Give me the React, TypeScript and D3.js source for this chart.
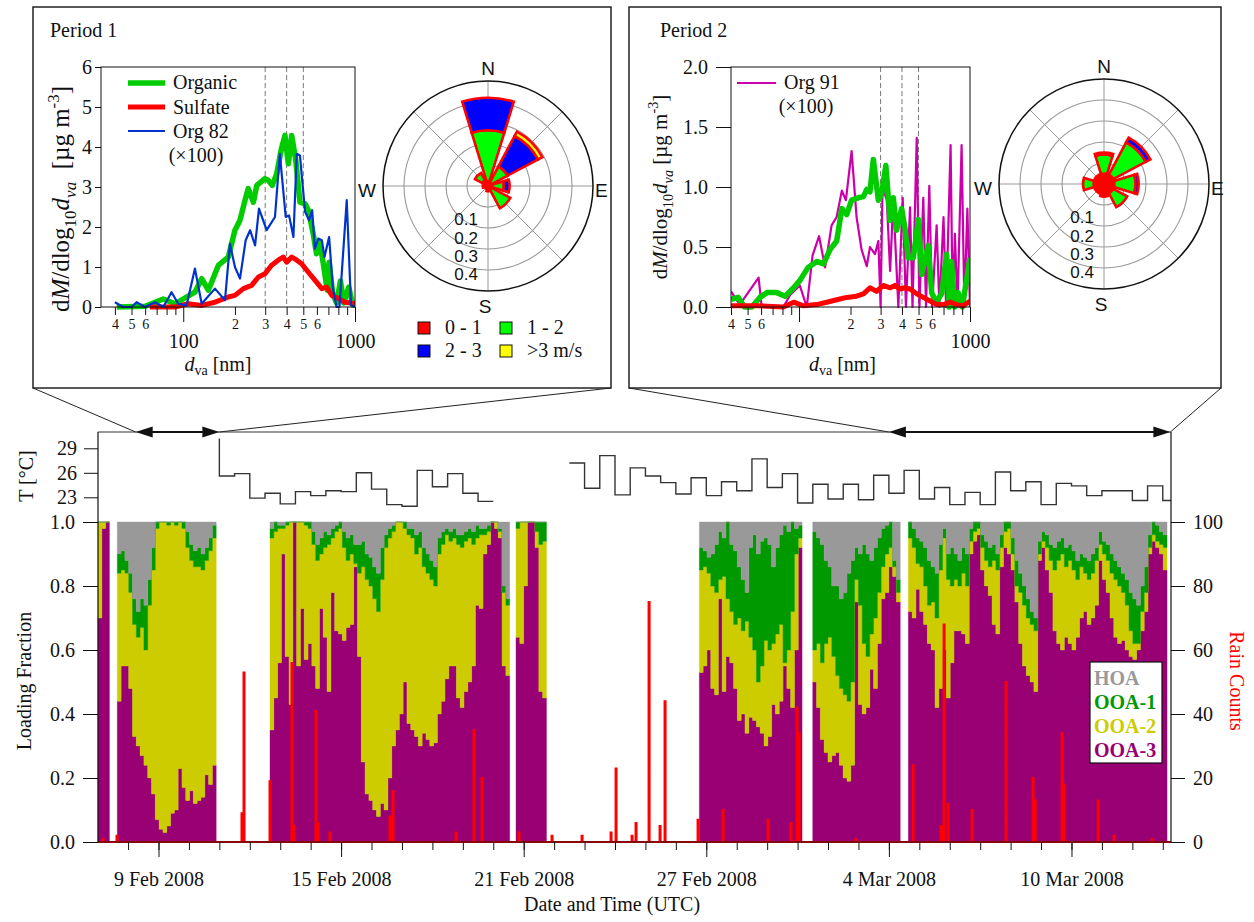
import React, { useEffect, useRef } from 'react';
import * as d3 from 'd3';

const SERIF = "'Liberation Serif', 'Times New Roman', Times, serif";
const SANS = "'Liberation Sans', Arial, Helvetica, sans-serif";

// ---------- size distributions: [d_va (nm), dM/dlog10 d_va (ug m-3)] ----------
const p1Organic = [[41,0],[60,0.02],[76.5,0.2],[89.5,0.08],[104.5,0.25],[117,0.37],[128,0.71],[140,0.42],[160,1.04],[183,1.25],[200,1.92],[214,2.17],[229,2.67],[239,2.96],[256,2.62],[268,3.04],[299,3.21],[312,3.17],[330,3.04],[350,3.33],[373,3.96],[391,4.29],[409,3.58],[428,4.29],[452,3.67],[478,2.62],[512,2.58],[535,2.42],[571,1.83],[597,1.33],[625,1.62],[654,1.08],[689,0.42],[707,1.12],[742,0.33],[781,0.1],[823,0.65],[860,0.1],[920,0.5],[970,0.05],[1000,0.1]];
const p1Sulfate = [[64,0],[89.5,0],[107,0.08],[128,0.04],[153,0.12],[183,0.25],[200,0.29],[224,0.46],[250,0.54],[274,0.75],[299,0.83],[326,1.04],[357,1.17],[382,1.25],[400,1.12],[428,1.25],[458,1.17],[489,1.08],[535,0.87],[584,0.67],[641,0.46],[683,0.5],[733,0.29],[800,0.21],[875,0.12],[1000,0.08]];
// Org 82 signal, x100
const p1Org82 = [[40,0.12],[44.7,0],[50,0],[53.5,0.12],[59.8,0],[68.4,0.12],[76.5,0],[85.5,0.37],[93.5,0.08],[104.5,0.04],[117,0.96],[128,0.08],[153,0.46],[175,0.17],[187,1.58],[200,1.0],[214,0.71],[231,1.67],[245,1.92],[262,1.54],[276,2.46],[306,1.92],[342,2.25],[365,3.83],[395,2.25],[413,2.29],[438,1.75],[458,3.83],[478,3.79],[512,2.38],[540,2.17],[563,2.42],[584,1.46],[611,1.71],[641,1.67],[664,1.25],[707,1.75],[742,0.5],[781,0],[812,0],[895,2.67],[948,0.05],[1000,0]];

const p2Organic = [[40,0.064],[44,0.08],[48,0],[53,0],[59,0.08],[65,0.12],[74,0.12],[83,0.09],[93,0.16],[101,0.22],[113,0.33],[127,0.38],[139,0.36],[152,0.48],[166,0.55],[178,0.82],[190,0.77],[203,0.89],[222,0.91],[238,0.92],[249,0.98],[260,0.96],[272,1.23],[291,0.89],[304,0.94],[322,1.18],[341,0.72],[356,0.91],[372,0.64],[398,0.82],[416,0.66],[435,0.41],[466,0.41],[499,0.73],[522,0.27],[569,0.51],[597,0.12],[634,0.04],[682,0.11],[730,0.44],[757,0],[780,0.38],[814,0],[852,0.12],[902,0],[1000,0.41]];
const p2Sulfate = [[40,0.01],[57,0.01],[81,0],[93,0.04],[106,0.01],[127,0.02],[145,0.04],[166,0.06],[190,0.08],[217,0.09],[238,0.11],[260,0.16],[284,0.13],[311,0.18],[341,0.16],[364,0.18],[390,0.15],[416,0.16],[445,0.15],[488,0.11],[533,0.08],[584,0.05],[640,0.02],[700,0.02],[765,0.04],[836,0.02],[915,0.01],[1000,0.05]];
// Org 91 signal, x100
const p2Org91 = [[40,0.13],[45,0.02],[58,0.245],[60.5,0],[81,0],[88.6,0.1],[101,0.18],[111,0],[120,0.43],[131,0.59],[142,0.33],[155,0.68],[166,0.75],[178,0.97],[188,0.89],[203,1.3],[217,0.75],[232,0.48],[249,0.34],[260,0.5],[278,0.44],[291,0.55],[300,0],[308,1.0],[326,0.89],[341,0.3],[356,0.89],[381,0],[404,0.91],[422,0],[446,0.83],[461,0],[488,1.41],[506,0],[533,0.91],[553,0],[578,1.01],[600,0],[638,0.68],[662,0],[700,0.75],[725,0],[770,1.35],[792,0],[816,0.61],[845,0],[893,1.35],[927,0],[965,0.82],[1000,0]];

// ---------- wind roses: fraction per sector (N, NE, E, SE, S, SW, W, NW) ----------
const windSectors = [0, 45, 90, 135, 180, 225, 270, 315];
const p1Wind01 = [0.02, 0.02, 0.02, 0.02, 0.015, 0.015, 0.02, 0.03];
const p1Wind12 = [0.245, 0.085, 0.055, 0.1, 0.01, 0, 0.005, 0.04];
const p1Wind23 = [0.155, 0.165, 0.028, 0, 0, 0, 0, 0];
const p1Wind3 = [0, 0.023, 0, 0, 0, 0, 0, 0];
const p2Wind01 = [0.05, 0.05, 0.05, 0.05, 0.06, 0.05, 0.05, 0.05];
const p2Wind12 = [0.09, 0.175, 0.1, 0.075, 0, 0, 0.05, 0];
const p2Wind23 = [0.01, 0.025, 0.015, 0, 0, 0, 0, 0];
const p2Wind3 = [0, 0, 0, 0, 0, 0, 0, 0];
const windLabels = ['0 - 1', '1 - 2', '2 - 3', '>3 m/s'];
const windColors = ['#ff0000', '#00ff00', '#0000ff', '#ffff00'];

// ---------- time series: days after 1 Feb 2008 00:00 UTC ----------
const timeStart = 6.012;
const timeEnd = 41.27;
const periods = [[7.25, 10], [32, 41.25]];
const dateTicks = [8, 14, 20, 26, 32, 38];

// temperature (deg C), 12-hourly
const tempAStart = 10;
const tempAFirst = 30.2;
const tempA = [25.6, 25.9, 22.9, 23.5, 22.2, 23.7, 23.2, 23.8, 23.7, 26.0, 24.0, 22.1, 21.9, 26.3, 24.3, 25.9, 23.5, 22.5];
const tempBStart = 21.5;
const tempB = [27.2, 24.1, 28.1, 23.3, 26.6, 25.6, 24.8, 23.4, 25.4, 23.2, 24.9, 23.8, 27.7, 24.2, 25.9, 22.3, 24.6, 22.8, 24.6, 22.7, 25.7, 23.5, 26.3, 22.8, 24.2, 22.1, 23.6, 22.1, 26.1, 23.8, 24.9, 22.1, 24.7, 24.4, 23.2, 23.8, 23.8, 22.6, 24.4, 22.6];

// factor loading fractions, 3-hourly blocks of data (HOA is the remainder)
const STEP = 0.125;
const blockStart = [6.012, 6.646, 11.664, 19.748, 25.772, 29.498, 32.64];
const ooa3 = [
  [0.70, 0.98, 1.0],
  [0.44, 0.55, 0.55, 0.48, 0.33, 0.30, 0.27, 0.24, 0.20, 0.15, 0.07, 0.04, 0.03, 0.05, 0.09, 0.10, 0.23, 0.17, 0.13, 0.16, 0.12, 0.13, 0.14, 0.21, 0.18, 0.24],
  [0.35, 0.45, 0.56, 0.90, 0.58, 0.43, 1.0, 0.55, 0.73, 0.57, 0.62, 0.55, 0.48, 0.73, 0.64, 0.47, 0.78, 0.66, 0.65, 0.63, 0.67, 0.68, 0.86, 0.58, 0.25, 0.15, 0.13, 0.10, 0.08, 0.12, 0.10, 0.20, 0.30, 0.35, 0.40, 0.50, 0.37, 0.35, 0.33, 0.30, 0.34, 0.32, 0.30, 0.31, 0.40, 0.44, 0.51, 0.55, 0.55, 0.45, 0.42, 0.47, 0.50, 0.55, 0.74, 0.73, 0.90, 0.93, 1.0, 0.98, 0.95, 0.55, 0.52],
  [0.64, 0.62, 0.80, 1.0, 1.0, 0.92, 0.47, 0.45],
  [0.53, 0.55, 0.60, 0.48, 0.46, 0.76, 0.47, 0.58, 0.56, 0.48, 0.38, 0.40, 0.34, 0.39, 0.38, 0.36, 0.34, 0.30, 0.33, 0.43, 0.40, 0.44, 0.55, 0.48, 0.42, 0.60, 0.92],
  [0.50, 0.42, 0.32, 0.28, 0.25, 0.27, 0.28, 0.24, 0.20, 0.19, 0.24, 0.75, 0.43, 0.40, 0.42, 0.54, 0.48, 0.62, 0.76, 0.78, 0.86, 0.83, 0.75],
  [0.72, 0.70, 0.79, 0.72, 0.68, 0.62, 0.60, 0.42, 0.48, 0.60, 0.45, 0.56, 0.66, 0.66, 0.65, 0.62, 0.90, 0.94, 0.96, 0.85, 0.80, 0.77, 0.68, 0.65, 0.86, 0.92, 0.90, 0.85, 0.75, 0.62, 0.55, 0.52, 0.50, 0.47, 0.88, 0.92, 0.85, 0.78, 0.66, 0.62, 0.60, 0.64, 0.62, 0.60, 0.64, 0.70, 0.72, 0.68, 0.70, 0.74, 0.88, 0.82, 0.78, 0.70, 0.64, 0.62, 0.63, 0.60, 0.58, 0.57, 0.60, 0.66, 0.72, 0.90, 0.94, 0.92, 0.90, 0.85],
];
const ooa2 = [
  [0.30, 0.02, 0],
  [0.40, 0.30, 0.29, 0.30, 0.35, 0.34, 0.40, 0.36, 0.54, 0.70, 0.91, 0.96, 0.97, 0.94, 0.91, 0.89, 0.77, 0.81, 0.79, 0.72, 0.74, 0.73, 0.71, 0.67, 0.73, 0.71],
  [0.60, 0.52, 0.42, 0.08, 0.41, 0.57, 0, 0.45, 0.27, 0.42, 0.36, 0.38, 0.40, 0.17, 0.28, 0.46, 0.17, 0.31, 0.33, 0.29, 0.21, 0.22, 0.01, 0.26, 0.61, 0.67, 0.67, 0.66, 0.64, 0.70, 0.82, 0.75, 0.67, 0.65, 0.60, 0.48, 0.59, 0.60, 0.57, 0.62, 0.52, 0.52, 0.52, 0.49, 0.50, 0.49, 0.45, 0.39, 0.40, 0.48, 0.50, 0.47, 0.45, 0.38, 0.21, 0.23, 0.06, 0.04, 0, 0.02, 0.02, 0.23, 0.22],
  [0.34, 0.38, 0.20, 0, 0, 0.05, 0.46, 0.49],
  [0.32, 0.31, 0.24, 0.32, 0.32, 0.06, 0.36, 0.18, 0.16, 0.20, 0.32, 0.26, 0.35, 0.25, 0.22, 0.14, 0.21, 0.33, 0.27, 0.19, 0.25, 0.24, 0.01, 0.12, 0.30, 0.30, 0.03],
  [0.10, 0.20, 0.24, 0.34, 0.39, 0.31, 0.24, 0.24, 0.26, 0.25, 0.26, 0.07, 0.31, 0.22, 0.16, 0.11, 0.22, 0.16, 0.10, 0.12, 0.06, 0.03, 0.03],
  [0.23, 0.22, 0.08, 0.14, 0.12, 0.12, 0.15, 0.28, 0.37, 0.35, 0.37, 0.24, 0.16, 0.14, 0.19, 0.18, 0.04, 0.03, 0.02, 0.07, 0.08, 0.09, 0.20, 0.20, 0.06, 0.05, 0.08, 0.05, 0.05, 0.16, 0.19, 0.18, 0.18, 0.19, 0.02, 0.02, 0.07, 0.10, 0.19, 0.26, 0.30, 0.22, 0.26, 0.25, 0.18, 0.16, 0.12, 0.14, 0.14, 0.14, 0.05, 0.08, 0.10, 0.14, 0.18, 0.18, 0.15, 0.14, 0.08, 0.05, 0.02, 0.06, 0.06, 0.02, 0.02, 0.02, 0.03, 0.07],
];
const ooa1 = [
  [0, 0, 0],
  [0.06, 0.06, 0.04, 0.06, 0.08, 0.08, 0.09, 0.14, 0.08, 0.07, 0.02, 0, 0, 0.01, 0, 0.01, 0, 0.02, 0.05, 0.05, 0.05, 0.06, 0.05, 0.04, 0.04, 0.04],
  [0.03, 0.03, 0.01, 0.01, 0.01, 0, 0, 0, 0, 0.01, 0.02, 0.04, 0.05, 0.05, 0.05, 0.03, 0.03, 0.02, 0.02, 0.05, 0.07, 0.06, 0.06, 0.09, 0.08, 0.08, 0.09, 0.10, 0.12, 0.10, 0.04, 0.03, 0.02, 0, 0, 0.02, 0.02, 0.03, 0.06, 0.05, 0.06, 0.06, 0.06, 0.06, 0.05, 0.04, 0.02, 0.03, 0.03, 0.03, 0.04, 0.03, 0.03, 0.04, 0.04, 0.02, 0.02, 0.02, 0, 0, 0.01, 0.02, 0.02],
  [0.02, 0, 0, 0, 0, 0.03, 0.07, 0.06],
  [0.07, 0.05, 0.05, 0.10, 0.15, 0.15, 0.12, 0.24, 0.21, 0.23, 0.16, 0.16, 0.09, 0.28, 0.36, 0.40, 0.39, 0.32, 0.33, 0.24, 0.27, 0.28, 0.43, 0.37, 0.28, 0.08, 0.04],
  [0.37, 0.33, 0.37, 0.26, 0.22, 0.22, 0.28, 0.28, 0.32, 0.40, 0.38, 0.10, 0.16, 0.31, 0.32, 0.23, 0.22, 0.17, 0.12, 0.09, 0.08, 0.02, 0.04],
  [0.05, 0.06, 0.08, 0.08, 0.12, 0.14, 0.11, 0.14, 0.08, 0.03, 0.08, 0.12, 0.08, 0.08, 0.08, 0.10, 0.04, 0.03, 0.02, 0.04, 0.06, 0.06, 0.05, 0.05, 0.04, 0.03, 0.02, 0.05, 0.08, 0.06, 0.06, 0.06, 0.04, 0.04, 0.04, 0.03, 0.04, 0.05, 0.07, 0.06, 0.05, 0.06, 0.05, 0.06, 0.06, 0.04, 0.05, 0.06, 0.06, 0.04, 0.04, 0.04, 0.05, 0.06, 0.06, 0.06, 0.06, 0.08, 0.12, 0.14, 0.12, 0.08, 0.08, 0.04, 0.04, 0.05, 0.04, 0.04],
];
const factorKeys = ['ooa3', 'ooa2', 'ooa1', 'hoa'];
const factorColors = ['#990073', '#cccc00', '#009900', '#999999'];
const legendNames = ['HOA', 'OOA-1', 'OOA-2', 'OOA-3'];
const legendColors = ['#999999', '#009900', '#cccc00', '#990073'];

// rain gauge events
const rainDay = [6.176, 6.636, 10.744, 10.81, 11.664, 12.387, 12.453, 13.176, 13.242, 13.636, 15.608, 15.706, 17.777, 18.368, 18.631, 19.847, 20.932, 21.918, 22.871, 23.035, 23.561, 23.692, 24.12, 24.481, 24.645, 25.73, 26.552, 28.03, 28.786, 28.983, 29.049, 30.922, 32.795, 33.715, 33.814, 33.946, 34.734, 35.852, 36.739, 36.805, 37.692, 37.757, 38.875, 39.401, 40.649];
const rainCount = [1, 2, 9, 53, 19, 56, 5, 41, 6, 3, 8, 16, 3, 35, 20, 3, 2, 2, 3, 23, 2, 6, 75, 5, 44, 7, 10, 7, 6, 42, 34, 1, 24, 5, 68, 12, 10, 50, 20, 13, 34, 18, 13, 2, 1];

const DAY0 = Date.UTC(2008, 1, 1);
const day = (d: number) => new Date(DAY0 + d * 864e5);

function Axis({ axis, tx = 0, ty = 0, fs = 20 }: any) {
  const ref = useRef<SVGGElement>(null);
  useEffect(() => {
    const g = d3.select(ref.current as SVGGElement);
    g.call(axis);
    g.attr('font-family', SERIF).attr('font-size', fs);
    g.selectAll('text').attr('fill', '#111').attr('font-family', SERIF).attr('font-size', fs);
    g.selectAll('line').attr('stroke', '#111');
    g.select('.domain').attr('stroke', 'none');
  });
  return <g ref={ref} transform={`translate(${tx},${ty})`} />;
}

function YLabel({ x, y, fs, gap }: any) {
  const s = fs * 0.68, dn = fs * 0.28, up = fs * 0.42;
  return (
    <text transform={`translate(${x},${y}) rotate(-90)`} textAnchor="middle" fontSize={fs} fill="#111">
      d<tspan fontStyle="italic">M</tspan>/dlog
      <tspan fontSize={s} dy={dn}>10</tspan>
      <tspan fontStyle="italic" dy={-dn}>d</tspan>
      <tspan fontStyle="italic" fontSize={s} dy={dn}>va</tspan>
      <tspan dy={-dn}>{gap + '[\u00b5g m'}</tspan>
      <tspan fontSize={s} dy={-up}>-3</tspan>
      <tspan dy={up}>]</tspan>
    </text>
  );
}

function SizePlot({ id, left, right, dMin, yMax, yTicks, yFmt, ySize, yPad, series, labelX, labelY, labelFs, gap }: any) {
  const top = 67, bottom = 307;
  const xs = d3.scaleLog().domain([dMin, 1000]).range([left, right]);
  const ys = d3.scaleLinear().domain([0, yMax]).range([bottom, top]);
  const line = d3.line<number[]>().x((p) => xs(p[0])).y((p) => ys(p[1]));
  const minor = [40, 50, 60, 70, 80, 90, 200, 300, 400, 500, 600, 700, 800, 900];
  const digits = [40, 50, 60, 200, 300, 400, 500, 600];
  const xMid = (left + right) / 2 + (dMin < 35 ? -2 : 0);
  return (
    <g>
      <defs>
        <clipPath id={id}>
          <rect x={left} y={top - 6} width={right - left} height={bottom - top + 12} />
        </clipPath>
      </defs>
      {[300, 400, 500].map((v) => (
        <line key={v} x1={xs(v)} x2={xs(v)} y1={top} y2={bottom} stroke="#777" strokeDasharray="5,3" />
      ))}
      <g clipPath={`url(#${id})`}>
        {series.map((s: any, i: number) => (
          <path key={i} d={line(s.data) || ''} fill="none" stroke={s.color} strokeWidth={s.width} strokeLinejoin="round" />
        ))}
      </g>
      <rect x={left} y={top} width={right - left} height={bottom - top} fill="none" stroke="#111" />
      <Axis axis={d3.axisLeft(ys).tickValues(yTicks).tickFormat(yFmt).tickSize(ySize).tickPadding(yPad).tickSizeOuter(0)} tx={left} />
      <Axis
        axis={d3.axisBottom(xs).tickValues(minor).tickSize(8).tickPadding(4).tickSizeOuter(0)
          .tickFormat((v: any) => (digits.includes(v) ? String(v)[0] : ''))}
        ty={bottom}
        fs={14}
      />
      <Axis axis={d3.axisBottom(xs).tickValues([100, 1000]).tickSize(15).tickPadding(12).tickSizeOuter(0).tickFormat(d3.format('d'))} ty={bottom} />
      <text x={xMid - 8} y={371} textAnchor="middle" fontSize={20} fill="#111">
        <tspan fontStyle="italic">d</tspan>
        <tspan fontSize={14} dy={4}>va</tspan>
        <tspan dy={-4}>{' [nm]'}</tspan>
      </text>
      <YLabel x={labelX} y={labelY} fs={labelFs} gap={gap} />
    </g>
  );
}

function WindRose({ cx, cy, bins }: any) {
  const r = d3.scaleLinear().domain([0, 0.5]).range([0, 105]);
  const arc = d3.arc<any>();
  const half = (17 * Math.PI) / 180;
  const petals: any[] = [];
  windSectors.forEach((deg, i) => {
    let acc = 0;
    const a = (deg * Math.PI) / 180;
    bins.forEach((b: number[], j: number) => {
      const v = b[i];
      if (v > 0) {
        petals.push(
          <path
            key={`${i}-${j}`}
            d={arc({ innerRadius: r(acc), outerRadius: r(acc + v), startAngle: a - half, endAngle: a + half }) || ''}
            fill={windColors[j]}
            stroke="#ff0000"
            strokeWidth={2.6}
          />
        );
      }
      acc += v;
    });
  });
  return (
    <g transform={`translate(${cx},${cy})`} fontFamily={SANS}>
      {windSectors.map((deg) => {
        const a = (deg * Math.PI) / 180;
        return <line key={deg} x1={0} y1={0} x2={r(0.5) * Math.sin(a)} y2={-r(0.5) * Math.cos(a)} stroke="#999" />;
      })}
      {[0.1, 0.2, 0.3, 0.4].map((v) => (
        <circle key={v} r={r(v)} fill="none" stroke="#999" strokeWidth={1.1} />
      ))}
      <circle r={r(0.5)} fill="none" stroke="#111" strokeWidth={1.5} />
      {petals}
      {[0.1, 0.2, 0.3, 0.4].map((v) => (
        <text key={v} x={-10} y={21 + 0.87 * r(v)} textAnchor="end" fontSize={17} fill="#111">
          {v.toFixed(1)}
        </text>
      ))}
      <text x={0} y={-111} textAnchor="middle" fontSize={19} fill="#111">N</text>
      <text x={-3} y={127} textAnchor="middle" fontSize={19} fill="#111">S</text>
      <text x={107} y={11} textAnchor="start" fontSize={19} fill="#111">E</text>
      <text x={-112} y={11} textAnchor="end" fontSize={19} fill="#111">W</text>
    </g>
  );
}

function DoubleArrow({ x0, x1, y }: any) {
  return (
    <g>
      <line x1={x0 + 10} x2={x1 - 10} y1={y} y2={y} stroke="#111" strokeWidth={2.2} />
      <path d={`M${x0},${y}L${x0 + 17},${y - 5.5}L${x0 + 17},${y + 5.5}Z`} fill="#111" />
      <path d={`M${x1},${y}L${x1 - 17},${y - 5.5}L${x1 - 17},${y + 5.5}Z`} fill="#111" />
    </g>
  );
}

export default function App() {
  const W = 1254, H = 922;
  const L = 98, R = 1171, Y0 = 842, Y1 = 522, TT = 432;

  const x = d3.scaleUtc().domain([day(timeStart), day(timeEnd)]).range([L, R]);
  const y = d3.scaleLinear().domain([0, 1]).range([Y0, Y1]);
  const yRain = d3.scaleLinear().domain([0, 100]).range([Y0, Y1]);
  const yT = d3.scaleLinear().domain([23, 29]).range([497.3, 448.3]);

  const stack = d3.stack<any>().keys(factorKeys);
  const area = d3.area<any>()
    .x((d) => x(day(d.data.t)))
    .y0((d) => y(d[0]))
    .y1((d) => y(d[1]))
    .curve(d3.curveStepAfter);

  const blocks = blockStart.map((s, bi) => {
    const rows: any[] = ooa3[bi].map((v, i) => ({
      t: s + i * STEP,
      ooa3: v,
      ooa2: ooa2[bi][i],
      ooa1: ooa1[bi][i],
      hoa: Math.max(0, 1 - v - ooa2[bi][i] - ooa1[bi][i]),
    }));
    rows.push({ ...rows[rows.length - 1], t: Math.min(s + rows.length * STEP, timeEnd) });
    return stack(rows);
  });

  const rainPts: [number, number][] = [[timeStart, 0]];
  rainDay.forEach((t, i) => {
    rainPts.push([t - 0.02, 0], [t - 0.02, rainCount[i]], [t + 0.02, rainCount[i]], [t + 0.02, 0]);
  });
  rainPts.push([timeEnd, 0]);
  const rainLine = d3.line<[number, number]>().x((p) => x(day(p[0]))).y((p) => yRain(p[1]));

  const tLine = d3.line<[number, number]>().x((p) => x(day(p[0]))).y((p) => yT(p[1])).curve(d3.curveStepAfter);
  const tPtsA: [number, number][] = [[tempAStart, tempAFirst], ...tempA.map((v, i) => [tempAStart + i * 0.5, v] as [number, number])];
  tPtsA.push([tempAStart + tempA.length * 0.5, tempA[tempA.length - 1]]);
  const tPtsB: [number, number][] = tempB.map((v, i) => [tempBStart + i * 0.5, v] as [number, number]);
  tPtsB.push([timeEnd, tempB[tempB.length - 1]]);

  const box1 = { x0: 33, x1: 611 };
  const box2 = { x0: 629, x1: 1221 };
  const p1a = x(day(periods[0][0])), p1b = x(day(periods[0][1]));
  const p2a = x(day(periods[1][0])), p2b = x(day(periods[1][1]));

  return (
    <svg width={W} height={H} style={{ position: 'absolute', left: 0, top: 0 }} fontFamily={SERIF}>
      <rect width={W} height={H} fill="#fff" />

      {/* period boxes */}
      <rect x={box1.x0} y={7} width={box1.x1 - box1.x0} height={381} fill="none" stroke="#222" strokeWidth={1.5} />
      <rect x={box2.x0} y={7} width={box2.x1 - box2.x0} height={381} fill="none" stroke="#222" strokeWidth={1.5} />
      <text x={50} y={37} fontSize={20} fill="#111">Period 1</text>
      <text x={660} y={37} fontSize={20} fill="#111">Period 2</text>

      <SizePlot
        id="clipP1" left={101} right={355} dMin={33.2} yMax={6} yTicks={[0, 1, 2, 3, 4, 5, 6]} yFmt={d3.format('d')}
        ySize={6} yPad={3} labelX={69} labelY={199} labelFs={25} gap={'\u00a0\u00a0'}
        series={[
          { data: p1Organic, color: '#00cc00', width: 5.5 },
          { data: p1Sulfate, color: '#ff0000', width: 5 },
          { data: p1Org82, color: '#0033cc', width: 2.2 },
        ]}
      />
      <line x1={128} x2={165} y1={83} y2={83} stroke="#00cc00" strokeWidth={5.5} />
      <line x1={128} x2={165} y1={107} y2={107} stroke="#ff0000" strokeWidth={5} />
      <line x1={128} x2={165} y1={131} y2={131} stroke="#0033cc" strokeWidth={2.2} />
      <text x={173} y={89} fontSize={20} fill="#111">Organic</text>
      <text x={173} y={114} fontSize={20} fill="#111">Sulfate</text>
      <text x={173} y={138} fontSize={20} fill="#111">Org 82</text>
      <text x={196} y={162} fontSize={20} fill="#111" textAnchor="middle">(×100)</text>

      <SizePlot
        id="clipP2" left={731} right={970} dMin={40} yMax={2} yTicks={[0, 0.5, 1, 1.5, 2]} yFmt={d3.format('.1f')}
        ySize={15} yPad={8} labelX={667} labelY={187} labelFs={21} gap={'\u00a0'}
        series={[
          { data: p2Org91, color: '#cc00aa', width: 2.2 },
          { data: p2Organic, color: '#00cc00', width: 5.5 },
          { data: p2Sulfate, color: '#ff0000', width: 5 },
        ]}
      />
      <line x1={737} x2={776} y1={83} y2={83} stroke="#cc00aa" strokeWidth={2.2} />
      <text x={784} y={89} fontSize={20} fill="#111">Org 91</text>
      <text x={806} y={113} fontSize={20} fill="#111" textAnchor="middle">(×100)</text>

      <WindRose cx={488} cy={186} bins={[p1Wind01, p1Wind12, p1Wind23, p1Wind3]} />
      <WindRose cx={1104} cy={184} bins={[p2Wind01, p2Wind12, p2Wind23, p2Wind3]} />
      {windLabels.map((lab, i) => {
        const lx = i % 2 === 0 ? 418 : 500;
        const ly = i < 2 ? 322 : 345;
        return (
          <g key={lab}>
            <rect x={lx} y={ly} width={12} height={12} fill={windColors[i]} stroke="#111" />
            <text x={lx + 27} y={ly + 12} fontSize={20} fill="#111">{lab}</text>
          </g>
        );
      })}

      {/* connectors */}
      <line x1={box1.x0} y1={388} x2={p1a} y2={TT} stroke="#222" />
      <line x1={box1.x1} y1={388} x2={p1b} y2={TT} stroke="#222" />
      <line x1={box2.x0} y1={388} x2={p2a} y2={TT} stroke="#222" />
      <line x1={box2.x1} y1={388} x2={p2b} y2={TT} stroke="#222" />

      {/* temperature panel */}
      <line x1={L} x2={R} y1={TT} y2={TT} stroke="#333" />
      <path d={tLine(tPtsA) || ''} fill="none" stroke="#333" strokeWidth={1.4} />
      <path d={tLine(tPtsB) || ''} fill="none" stroke="#333" strokeWidth={1.4} />
      <Axis axis={d3.axisLeft(yT).tickValues([23, 26, 29]).tickFormat(d3.format('d')).tickSize(14).tickPadding(7).tickSizeOuter(0)} tx={L} />
      <text transform={`translate(33,476) rotate(-90)`} textAnchor="middle" fontSize={20} fill="#111">T [°C]</text>
      <DoubleArrow x0={p1a} x1={p1b} y={TT} />
      <DoubleArrow x0={p2a} x1={p2b} y={TT} />

      {/* stacked loading fractions */}
      {blocks.map((series, bi) =>
        series.map((s: any, k: number) => (
          <path key={`${bi}-${k}`} d={area(s) || ''} fill={factorColors[k]} stroke={factorColors[k]} strokeWidth={0.4} />
        ))
      )}
      <path d={rainLine(rainPts) || ''} fill="none" stroke="#ff0000" strokeWidth={1.8} />

      {/* frame and axes */}
      <line x1={L} x2={L} y1={TT} y2={Y0} stroke="#111" strokeWidth={1.2} />
      <line x1={R} x2={R} y1={TT} y2={Y0} stroke="#111" strokeWidth={1.2} />
      <line x1={L} x2={R} y1={Y0} y2={Y0} stroke="#111" strokeWidth={1.2} />
      <Axis axis={d3.axisLeft(y).tickValues([0, 0.2, 0.4, 0.6, 0.8, 1]).tickFormat(d3.format('.1f')).tickSize(15).tickPadding(8).tickSizeOuter(0)} tx={L} />
      <Axis axis={d3.axisRight(yRain).tickValues([0, 20, 40, 60, 80, 100]).tickSize(14).tickPadding(8).tickSizeOuter(0)} tx={R} />
      <Axis axis={d3.axisBottom(x).ticks(d3.utcDay.every(1) as any).tickSize(8).tickFormat(() => '').tickSizeOuter(0)} ty={Y0} />
      <Axis
        axis={d3.axisBottom(x).tickValues(dateTicks.map(day)).tickSize(15).tickPadding(15).tickSizeOuter(0)
          .tickFormat(d3.utcFormat('%-d %b %Y') as any)}
        ty={Y0}
      />
      <text transform={`translate(31,681) rotate(-90)`} textAnchor="middle" fontSize={20} fill="#111">Loading Fraction</text>
      <text transform={`translate(1230,681) rotate(90)`} textAnchor="middle" fontSize={20} fill="#ff0000">Rain Counts</text>
      <text x={612} y={911} textAnchor="middle" fontSize={20} fill="#111">Date and Time (UTC)</text>

      {/* legend */}
      <rect x={1090} y={662} width={72} height={101} fill="#fff" stroke="#111" strokeWidth={1.2} />
      {legendNames.map((n, i) => (
        <text key={n} x={1094} y={685 + i * 24} fontSize={20} fontWeight="bold" fill={legendColors[i]}>{n}</text>
      ))}
    </svg>
  );
}
